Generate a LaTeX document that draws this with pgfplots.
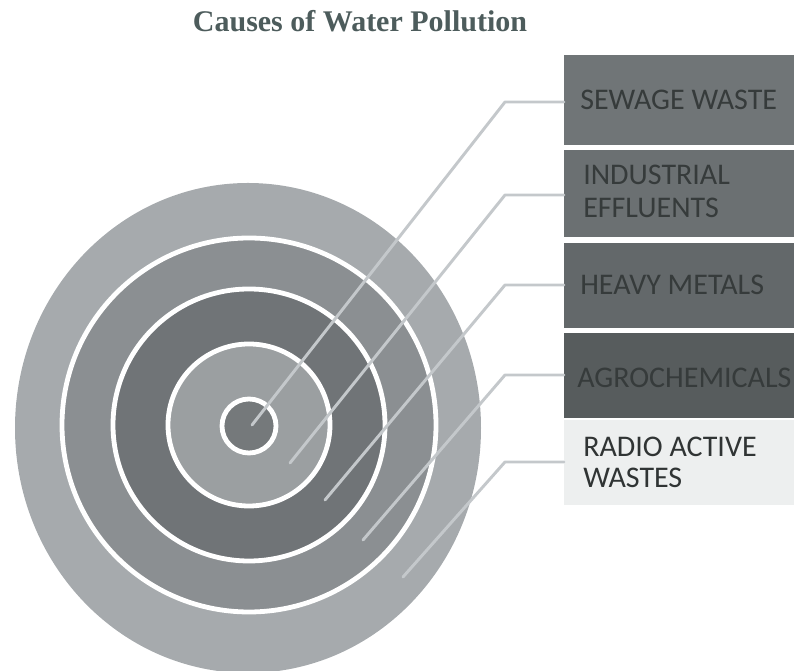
\documentclass[border=0pt]{standalone}
\usepackage{pgfplots}
\pgfplotsset{compat=1.18}
\usepackage{fontspec}
\setmainfont{Liberation Serif}
\newfontfamily\carlito{Carlito}
\definecolor{titlec}{HTML}{4D5C5C}
\definecolor{bandA}{HTML}{A6AAAD}
\definecolor{bandB}{HTML}{8B8F92}
\definecolor{bandC}{HTML}{707477}
\definecolor{bandD}{HTML}{9B9FA1}
\definecolor{bandE}{HTML}{75797B}
\definecolor{leader}{HTML}{C4C8CB}
\definecolor{boxA}{HTML}{707577}
\definecolor{boxB}{HTML}{6B7072}
\definecolor{boxC}{HTML}{63686A}
\definecolor{boxD}{HTML}{575C5D}
\definecolor{boxE}{HTML}{EDEFEF}
\definecolor{boxtext}{HTML}{363B3B}
\definecolor{lighttext}{HTML}{303434}
\begin{document}
\begin{tikzpicture}
\begin{axis}[
  width=595.5pt, height=503.25pt, scale only axis,
  hide axis, clip mode=global,
  xmin=0, xmax=794, ymin=0, ymax=671,
]
% title
\node[anchor=base, text=titlec, inner sep=0pt,
      font=\bfseries\fontsize{22.5}{27}\selectfont] at (axis cs:360,639) {Causes of Water Pollution};

% concentric target (outer ellipse centre 248,243 ; rings centre 249,246 ; radii in px)
\fill[bandA] (axis cs:248,243) ellipse[x radius=233, y radius=245];
\fill[bandB] (axis cs:249,246) circle[radius=187];
\fill[bandC] (axis cs:249,246) circle[radius=136];
\fill[bandD] (axis cs:249,246) circle[radius=81];
\fill[bandE] (axis cs:249,245) circle[radius=27];
\draw[white, line width=3.6pt] (axis cs:249,246) circle[radius=187];
\draw[white, line width=3.6pt] (axis cs:249,246) circle[radius=136];
\draw[white, line width=3.6pt] (axis cs:249,246) circle[radius=81];
\draw[white, line width=3.6pt] (axis cs:249,245) circle[radius=27];

% boxes
\fill[boxA] (axis cs:564,616) rectangle (axis cs:794,526);
\fill[boxB] (axis cs:564,521) rectangle (axis cs:794,434);
\fill[boxC] (axis cs:564,428) rectangle (axis cs:794,343);
\fill[boxD] (axis cs:564,338) rectangle (axis cs:794,253);
\fill[boxE] (axis cs:564,251) rectangle (axis cs:794,166);

% leader lines
\addplot[leader, line width=2.2pt, line join=round, line cap=round] coordinates {(252,246) (505,569) (564,569)};
\addplot[leader, line width=2.2pt, line join=round, line cap=round] coordinates {(290,208) (505,476) (564,476)};
\addplot[leader, line width=2.2pt, line join=round, line cap=round] coordinates {(325,171) (505,386) (564,386)};
\addplot[leader, line width=2.2pt, line join=round, line cap=round] coordinates {(363,131) (505,296) (564,296)};
\addplot[leader, line width=2.2pt, line join=round, line cap=round] coordinates {(403,94) (505,209) (564,209)};

% labels
\tikzset{lbl/.style={anchor=base west, inner sep=0pt, font=\carlito\fontsize{22.5}{27}\selectfont}}
\node[lbl, text=boxtext] at (axis cs:580,561) {SEWAGE WASTE};
\node[lbl, text=boxtext] at (axis cs:583,486) {INDUSTRIAL};
\node[lbl, text=boxtext] at (axis cs:583,453) {EFFLUENTS};
\node[lbl, text=boxtext] at (axis cs:580,376) {HEAVY METALS};
\node[lbl, text=boxtext] at (axis cs:577,283) {AGROCHEMICALS};
\node[lbl, text=lighttext] at (axis cs:583,214) {RADIO ACTIVE};
\node[lbl, text=lighttext] at (axis cs:583,183) {WASTES};
\end{axis}
\pgfresetboundingbox
\useasboundingbox (0,0) rectangle (595.5pt,503.25pt);
\end{tikzpicture}
\end{document}
